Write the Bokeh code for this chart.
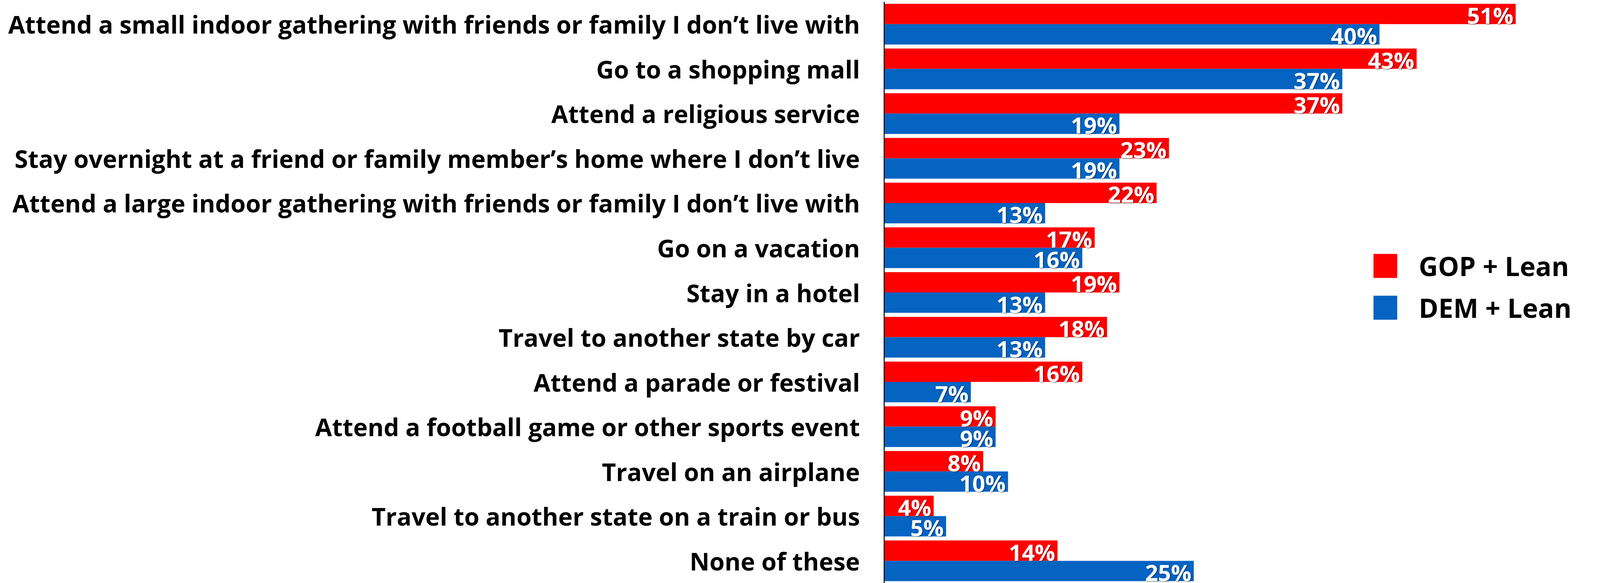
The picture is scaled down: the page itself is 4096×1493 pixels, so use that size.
from bokeh.plotting import figure
from bokeh.models import FactorRange, Range1d, ColumnDataSource, Legend, LegendItem
from bokeh.transform import dodge
from bokeh.core.properties import value
from bokeh.embed import file_html
from bokeh.resources import INLINE

categories = [
    "Attend a small indoor gathering with friends or family I don\u2019t live with",
    "Go to a shopping mall",
    "Attend a religious service",
    "Stay overnight at a friend or family member\u2019s home where I don\u2019t live",
    "Attend a large indoor gathering with friends or family I don\u2019t live with",
    "Go on a vacation",
    "Stay in a hotel",
    "Travel to another state by car",
    "Attend a parade or festival",
    "Attend a football game or other sports event",
    "Travel on an airplane",
    "Travel to another state on a train or bus",
    "None of these",
]
gop = [51, 43, 37, 23, 22, 17, 19, 18, 16, 9, 8, 4, 14]
dem = [40, 37, 19, 19, 13, 16, 13, 13, 7, 9, 10, 5, 25]
series_names = ["GOP + Lean", "DEM + Lean"]
colors = ["#FF0000", "#0563C1"]

FONT = "Open Sans"
W, H = 4096, 1493
AXIS_X = 2263
PX_PER_PCT = 31.7
x_end = (W - AXIS_X) / PX_PER_PCT

src = ColumnDataSource(dict(
    cat=categories,
    gop=gop,
    dem=dem,
    gop_lbl=[f"{v}%" for v in gop],
    dem_lbl=[f"{v}%" for v in dem],
))

p = figure(width=W, height=H,
           y_range=FactorRange(*categories[::-1]),
           x_range=Range1d(0, x_end),
           output_backend="svg", toolbar_location=None,
           x_axis_location=None,
           min_border_left=AXIS_X, min_border_right=0,
           min_border_top=4, min_border_bottom=0)

BH = 0.455
r_gop = p.hbar(y=dodge("cat", BH / 2, range=p.y_range), left=0, right="gop", height=BH,
               fill_color=colors[0], line_color=None, source=src)
r_dem = p.hbar(y=dodge("cat", -BH / 2, range=p.y_range), left=0, right="dem", height=BH,
               fill_color=colors[1], line_color=None, source=src)

for col, off in (("gop", BH / 2), ("dem", -BH / 2)):
    # soft shadow
    p.text(x=col, y=dodge("cat", off, range=p.y_range), text=col + "_lbl", source=src,
           text_align="right", text_baseline="middle", x_offset=-4, y_offset=5,
           text_color="#000000", text_alpha=0.35, text_font=value(FONT),
           text_font_style="bold", text_font_size="58px", text_line_height=1.0)
    p.text(x=col, y=dodge("cat", off, range=p.y_range), text=col + "_lbl", source=src,
           text_align="right", text_baseline="middle", x_offset=-6, y_offset=3,
           text_color="white", text_font=value(FONT),
           text_font_style="bold", text_font_size="58px", text_line_height=1.0)

p.xgrid.visible = False
p.ygrid.visible = False
p.outline_line_color = None

ax = p.yaxis[0]
ax.major_tick_line_color = None
ax.minor_tick_line_color = None
ax.major_tick_out = 0
ax.major_tick_in = 0
ax.major_label_standoff = 62
ax.major_label_text_font = FONT
ax.major_label_text_font_style = "bold"
ax.major_label_text_font_size = "62.5px"
ax.major_label_text_color = "black"
ax.axis_line_color = "black"
ax.axis_line_width = 2.5

legend = Legend(items=[LegendItem(label=series_names[0], renderers=[r_gop]),
                       LegendItem(label=series_names[1], renderers=[r_dem])],
                location=(1245, 659), glyph_width=76, glyph_height=77,
                label_text_font=FONT, label_text_font_style="bold",
                label_text_font_size="68px", label_text_color="black",
                label_height=77,
                label_standoff=48, spacing=14, padding=0, margin=0,
                border_line_color=None, background_fill_alpha=0)
p.add_layout(legend)

open("out.html", "w").write(file_html(p, INLINE))
